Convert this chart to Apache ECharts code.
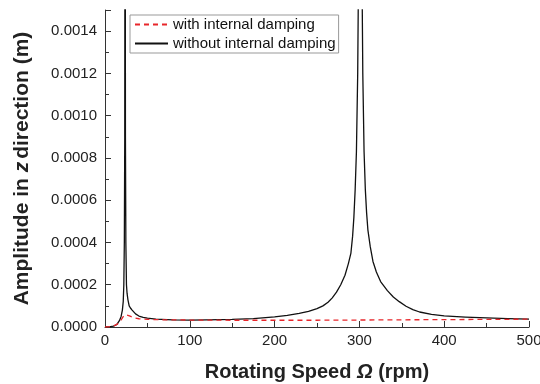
<!DOCTYPE html>
<html><head><meta charset="utf-8">
<script src="https://cdn.jsdelivr.net/npm/echarts@6/dist/echarts.min.js"></script>
<style>html,body{margin:0;padding:0;background:#fff}#c{width:540px;height:384px}</style>
</head><body><div id="c"></div>
<script>
var speedUndamped = [0,5,10,14,17,19,20.5,21.5,22.2,22.8,23.3,23.7,24.1,24.6,25.3,26,27,28.5,30,32,36,40,45,50,60,80,100,120,150,175,200,215,229,240,250,257,263,268,273,278,283,287,290,292,293.5,295,296.5,298,299,300,301,302,303,304,305.5,307,308.5,310,312.8,316,320,325,333,340,347,355,363,371,385,400,425,450,475,500];
var ampUndamped = [0,0.000001,0.000004,0.000012,0.00003,0.00005,0.00008,0.00012,0.0002,0.0004,0.0009,0.003,0.0009,0.0004,0.0002,0.00016,0.00013,0.0001,0.00009,0.00008,0.000062,0.000052,0.000046,0.000042,0.000037,0.000034,0.000033,0.000034,0.000036,0.00004,0.000048,0.000055,0.000064,0.000074,0.000087,0.0001,0.000117,0.000138,0.000165,0.0002,0.000245,0.0003,0.00035,0.00043,0.00052,0.00065,0.00083,0.0012,0.0017,0.003,0.01,0.003,0.0017,0.0012,0.00083,0.00065,0.00054,0.00046,0.00038,0.00031,0.00026,0.000215,0.000172,0.000142,0.00012,0.000098,0.000082,0.000071,0.00006,0.000053,0.000047,0.000043,0.00004,0.000037];
var speedDamped = [0,5,10,15,18,20,22,25,28,31,35,40,50,70,100,150,200,250,300,350,400,450,500];
var ampDamped = [0,0.000001,0.000004,0.000015,0.000028,0.00004,0.000052,0.000058,0.000054,0.000049,0.000043,0.000039,0.000036,0.000034,0.000033,0.000032,0.000032,0.000032,0.000033,0.000034,0.000035,0.000036,0.000037];
var seriesNames = ['with internal damping','without internal damping'];
var xTicks = [0,100,200,300,400,500];

function pairs(xs, ys){ return xs.map(function(x,i){return [x, ys[i]];}); }
var chart = echarts.init(document.getElementById('c'), null, {renderer:'canvas'});
var axisCol = '#333';
var ff = 'Liberation Sans, Arial, sans-serif';
chart.setOption({
  animation:false,
  backgroundColor:'#fff',
  grid:{left:105, right:11, top:10, bottom:57, outerBoundsMode:'none', containLabel:false},
  legend:{
    left:130, top:15, orient:'vertical', itemGap:4, itemWidth:33, itemHeight:14,
    padding:[2,3,2,4], borderColor:'#999', borderWidth:1,
    itemStyle:{opacity:0},
    data:seriesNames,
    textStyle:{fontFamily:ff, fontSize:15, color:'#111'}
  },
  xAxis:{
    type:'value', min:xTicks[0], max:xTicks[xTicks.length-1], interval:100,
    name:'{a|Rotating Speed }{b|Ω}{a| (rpm)}', nameLocation:'middle', nameGap:35,
    nameTextStyle:{rich:{
      a:{fontFamily:ff, fontWeight:'bold', fontSize:20, color:'#222'},
      b:{fontFamily:ff, fontWeight:'bold', fontStyle:'italic', fontSize:20, color:'#222'}}},
    axisLine:{show:true, lineStyle:{color:axisCol, width:1}},
    axisTick:{show:true, inside:true, length:6, lineStyle:{color:axisCol}},
    minorTick:{show:true, splitNumber:2, length:4, lineStyle:{color:axisCol}},
    splitLine:{show:false},
    axisLabel:{fontFamily:ff, fontSize:15, color:'#222', margin:6}
  },
  yAxis:{
    type:'value', min:0, max:0.0015, interval:0.0002,
    name:'{a|Amplitude in }{b|z}{a|direction (m)}', nameLocation:'middle', nameGap:72, nameRotate:90,
    nameTextStyle:{rich:{
      a:{fontFamily:ff, fontWeight:'bold', fontSize:21, color:'#222'},
      b:{fontFamily:ff, fontWeight:'bold', fontStyle:'italic', fontSize:21, color:'#222', padding:[0,3,0,0]}}},
    axisLine:{show:true, lineStyle:{color:axisCol, width:1}},
    axisTick:{show:true, inside:true, length:6, lineStyle:{color:axisCol}},
    minorTick:{show:true, splitNumber:2, length:4, lineStyle:{color:axisCol}},
    splitLine:{show:false},
    axisLabel:{fontFamily:ff, fontSize:15, color:'#222', margin:8, showMaxLabel:false,
      formatter:function(v){ return v.toFixed(4); }}
  },
  series:[
    {name:seriesNames[0], type:'line', data:pairs(speedDamped, ampDamped), showSymbol:false, symbol:'none', smooth:false,
     lineStyle:{color:'#e8262b', width:1.3, type:[5,4]}, itemStyle:{color:'#e8262b'}, z:3},
    {name:seriesNames[1], type:'line', data:pairs(speedUndamped, ampUndamped), showSymbol:false, symbol:'none', smooth:false,
     lineStyle:{color:'#111', width:1.3, join:'round'}, itemStyle:{color:'#111'}, z:2}
  ]
});
</script></body></html>
